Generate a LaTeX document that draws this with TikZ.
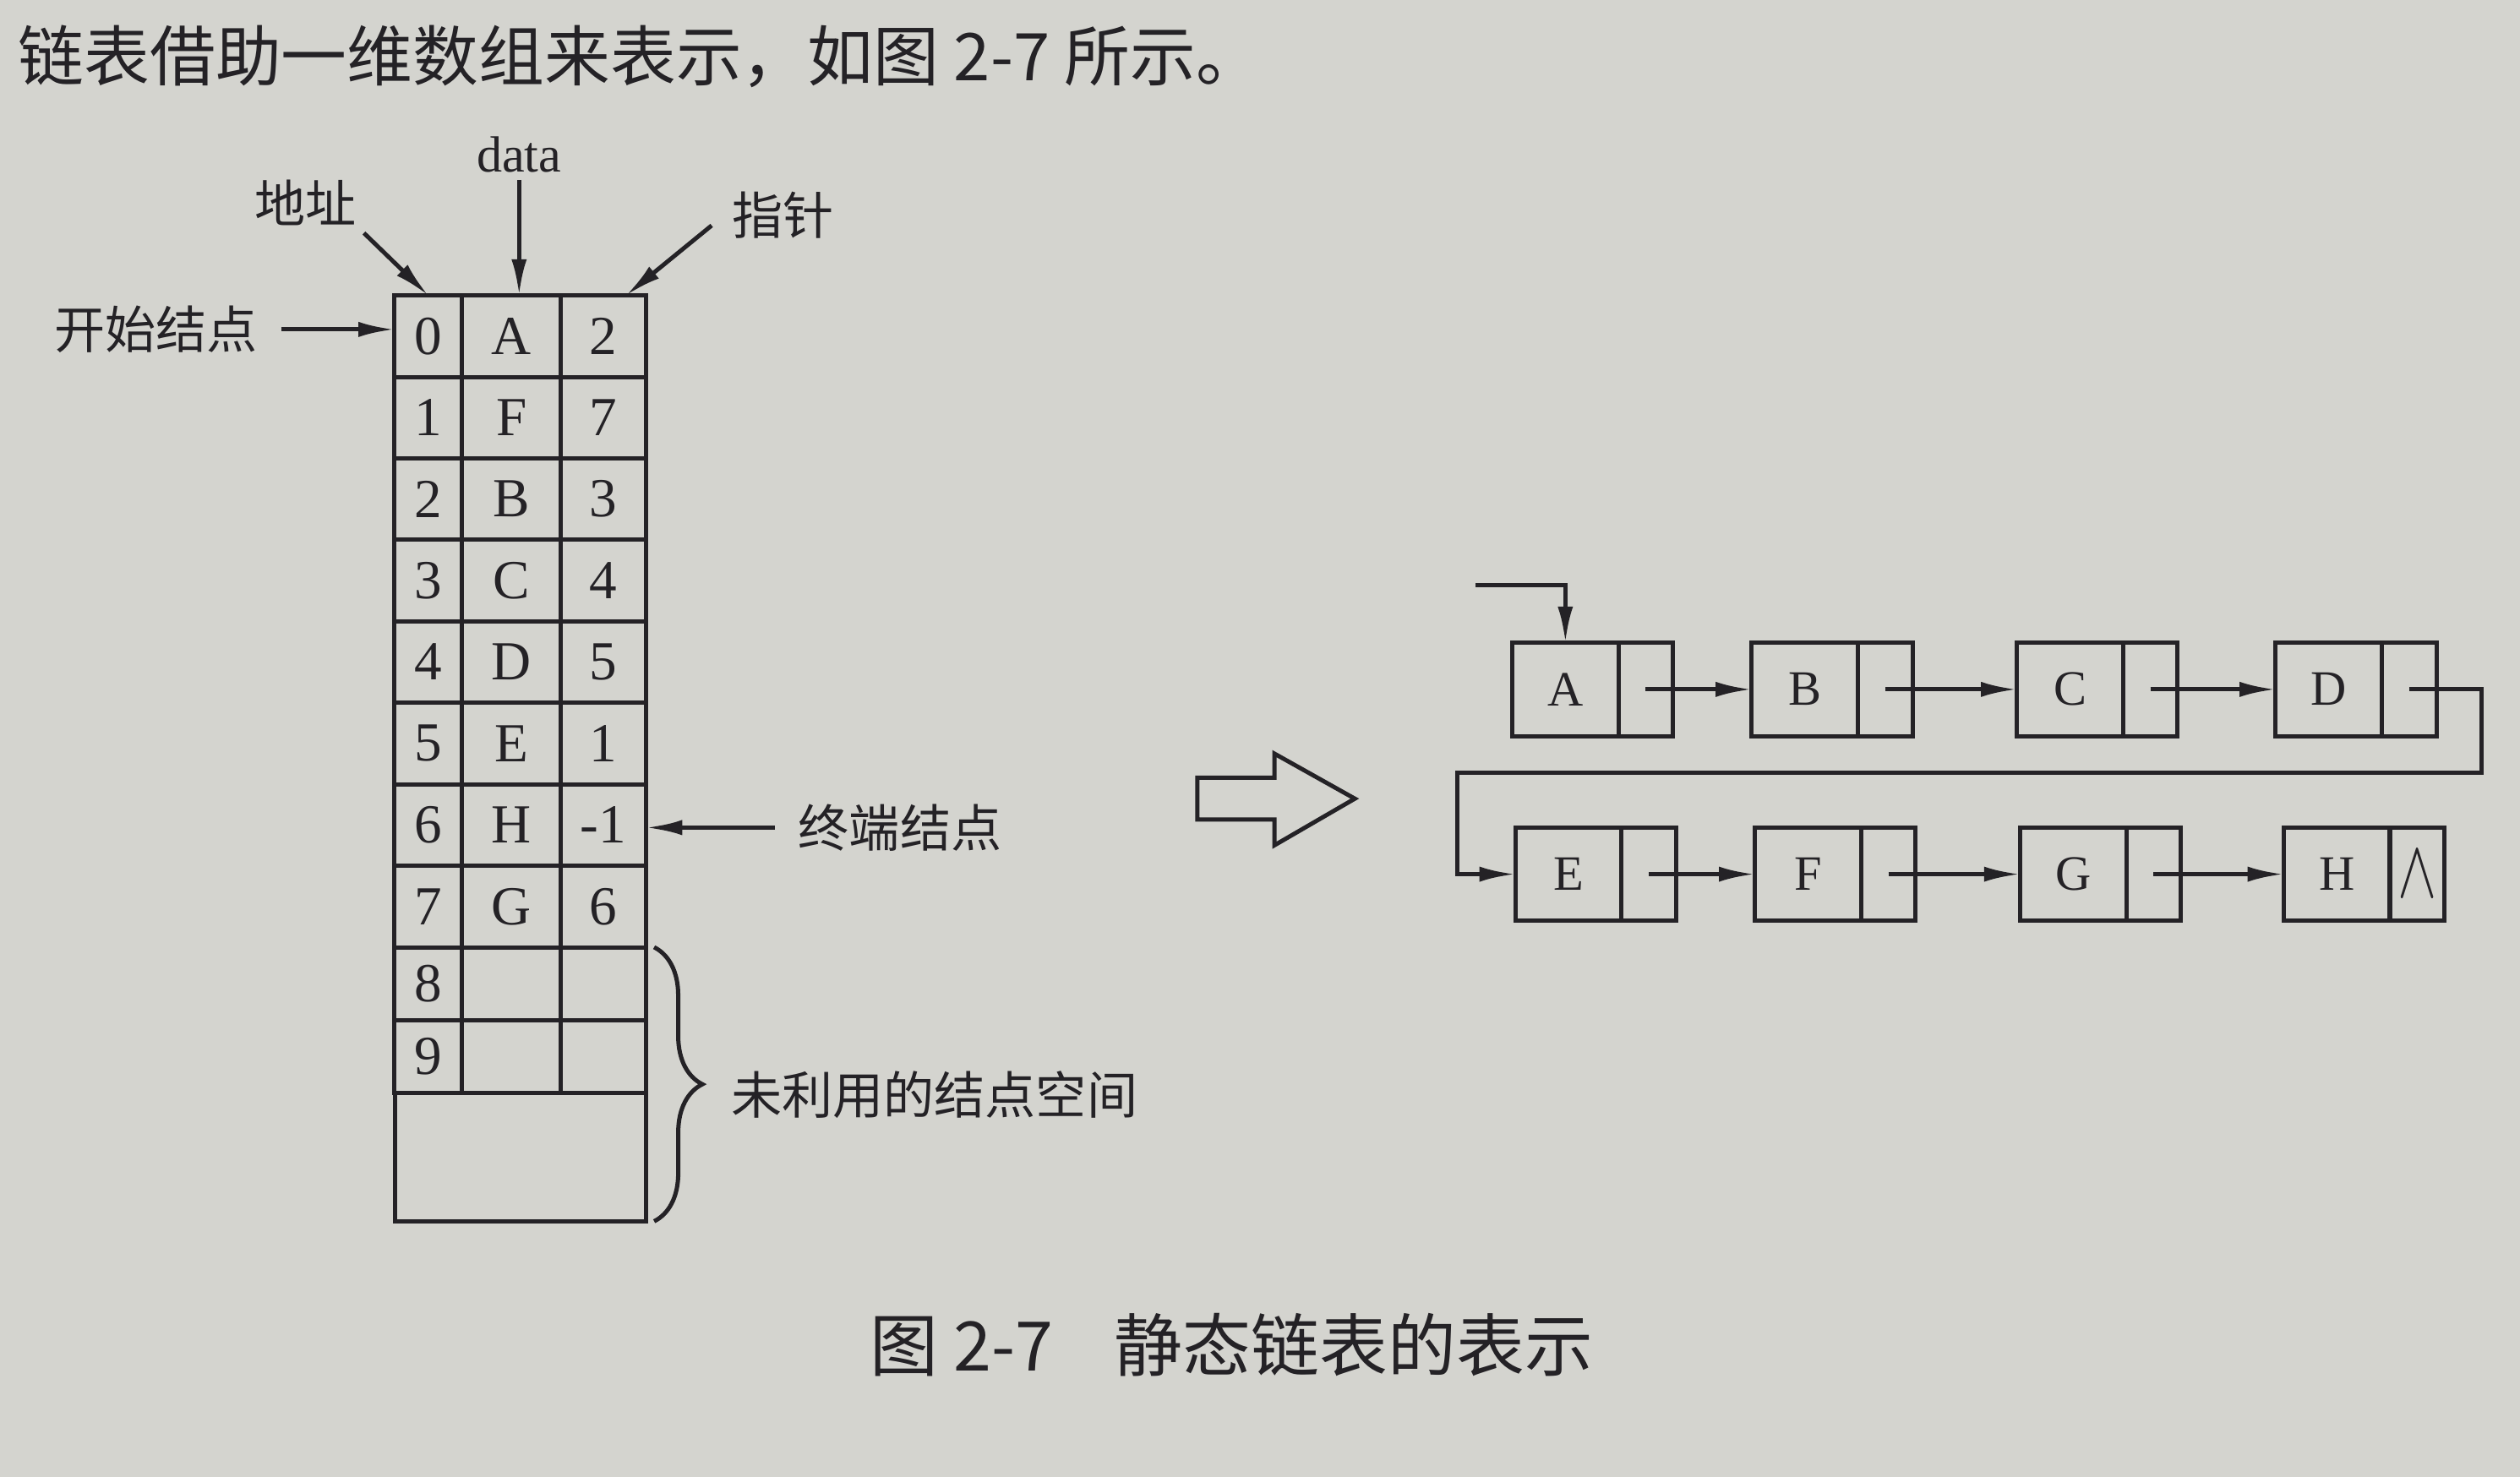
\documentclass[tikz,border=0pt]{standalone}
\usepackage{fontspec}
\setmainfont{Liberation Serif}
\newfontfamily\cjk{Noto Sans CJK SC}
\usetikzlibrary{arrows.meta}
\usetikzlibrary{decorations.pathreplacing}
\definecolor{ink}{RGB}{36,34,38}
\definecolor{paper}{RGB}{212,212,207}
\tikzstyle{sheet}=[x=0.02cm, y=-0.02cm, line width=1.5pt, color=ink, font=\fontsize{19.5}{22}\selectfont]
\tikzstyle{cell}=[draw, inner sep=0pt, outer sep=0pt, minimum height=1.014cm]
\tikzstyle{ca}=[cell, minimum width=0.84cm]
\tikzstyle{cd}=[cell, minimum width=1.23cm]
\tikzstyle{cp}=[cell, minimum width=1.06cm]
\tikzstyle{spare}=[minimum height=0.904cm]
\tikzstyle{cn}=[inner sep=2pt, font=\cjk\fontsize{18}{20}\selectfont]
\tikzstyle{txt}=[inner sep=0pt, anchor=west, font=\cjk\fontsize{23.3}{26}\selectfont]
\tikzstyle{figcap}=[inner sep=0pt, anchor=west, font=\cjk\fontsize{24.2}{27}\selectfont]
\tikzstyle{edge}=[-{Latex[length=0.45cm,width=0.19cm]}]
\tikzstyle{fld}=[draw, inner sep=0pt, outer sep=0pt, minimum width=1.32cm, minimum height=1.16cm, font=\fontsize{17.5}{20}\selectfont]
\tikzstyle{nxt}=[fld, minimum width=0.68cm]
\tikzstyle{brace}=[decorate, decoration={brace, amplitude=0.6cm}]

\begin{document}
\begin{tikzpicture}[sheet]
	\useasboundingbox (0,0) rectangle (1568,919);
	\fill[paper] (0,0) rectangle (1568,919);
	%%
	\draw (10,35) node[txt] (intro) {链表借助一维数组来表示，如图 2-7 所示。};
	%%%%%% static table
	\draw (266.5,209.2) node[ca] (a0) {0} (318.3,209.2) node[cd] (d0) {A} (375.5,209.2) node[cp] (p0) {2};
	\draw (266.5,259.9) node[ca] (a1) {1} (318.3,259.9) node[cd] (d1) {F} (375.5,259.9) node[cp] (p1) {7};
	\draw (266.5,310.6) node[ca] (a2) {2} (318.3,310.6) node[cd] (d2) {B} (375.5,310.6) node[cp] (p2) {3};
	\draw (266.5,361.3) node[ca] (a3) {3} (318.3,361.3) node[cd] (d3) {C} (375.5,361.3) node[cp] (p3) {4};
	\draw (266.5,412.0) node[ca] (a4) {4} (318.3,412.0) node[cd] (d4) {D} (375.5,412.0) node[cp] (p4) {5};
	\draw (266.5,462.7) node[ca] (a5) {5} (318.3,462.7) node[cd] (d5) {E} (375.5,462.7) node[cp] (p5) {1};
	\draw (266.5,513.4) node[ca] (a6) {6} (318.3,513.4) node[cd] (d6) {H} (375.5,513.4) node[cp] (p6) {-1};
	\draw (266.5,564.1) node[ca] (a7) {7} (318.3,564.1) node[cd] (d7) {G} (375.5,564.1) node[cp] (p7) {6};
	\draw (266.5,612.2) node[ca, spare] (a8) {8} (318.3,612.2) node[cd, spare] (d8) {} (375.5,612.2) node[cp, spare] (p8) {};
	\draw (266.5,657.4) node[ca, spare] (a9) {9} (318.3,657.4) node[cd, spare] (d9) {} (375.5,657.4) node[cp, spare] (p9) {};
	\draw (323.8,720) node[cell, minimum width=3.13cm, minimum height=1.6cm] (blank) {};
	%%
	\draw (190,126) node[cn] (addr) {地址};
	\draw (323,96) node[inner sep=2pt, font=\fontsize{18}{20}\selectfont] (dat) {data};
	\draw (487,134) node[cn] (link) {指针};
	\draw (97,205) node[cn] (start) {开始结点};
	\draw (560,515) node[cn] (tail) {终端结点};
	\draw (450,681) node[cn, anchor=west] (free) {未利用的结点空间};
	%%
	\draw[edge] (addr.south east) -- (a0.north);
	\draw[edge] (dat.south) -- (dat.south |- d0.north);
	\draw[edge, shorten <=0.2cm] (link.west) -- ([xshift=0.28cm]p0.north);
	\draw[edge, shorten <=0.2cm] (start.east) -- (start.east -| a0.west);
	\draw[edge, shorten <=0.2cm] (tail.west) -- (tail.west -| p6.east);
	\draw[brace] ([xshift=0.1cm]p7.south east) -- ([xshift=0.1cm]blank.south east);
	%%%%%% hollow arrow
	\draw[line join=miter] (745,484) -- (793,484) -- (793,469) -- (843,497) -- (793,526) -- (793,510) -- (745,510) -- cycle;
	%%%%%% linked list
	\draw (974,429) node[fld] (nA) {A};
	\draw (1024,429) node[nxt] (pA) {};
	%%
	\draw (1123,429) node[fld] (nB) {B};
	\draw (1173,429) node[nxt] (pB) {};
	%%
	\draw (1288,429) node[fld] (nC) {C};
	\draw (1338,429) node[nxt] (pC) {};
	%%
	\draw (1449,429) node[fld] (nD) {D};
	\draw (1499,429) node[nxt] (pD) {};
	%%
	\draw (976,544) node[fld] (nE) {E};
	\draw (1026,544) node[nxt] (pE) {};
	%%
	\draw (1125,544) node[fld] (nF) {F};
	\draw (1175,544) node[nxt] (pF) {};
	%%
	\draw (1290,544) node[fld] (nG) {G};
	\draw (1340,544) node[nxt] (pG) {};
	%%
	\draw (1454,544) node[fld] (nH) {H};
	\draw (1504,544) node[nxt] (pH) {\scalebox{1}[1.4]{\fontsize{20}{24}\selectfont$\wedge$}};
	%%
	\coordinate (head) at (918,364);
	\coordinate (turnR) at (1544,481);
	\coordinate (turnL) at (907,481);
	\draw[edge] (head) -| (nA.north);
	\draw[edge] (pA.center) -- (nB.west);
	\draw[edge] (pB.center) -- (nC.west);
	\draw[edge] (pC.center) -- (nD.west);
	\draw[edge] (pD.center) -| (turnR) -- (turnL) |- (nE.west);
	\draw[edge] (pE.center) -- (nF.west);
	\draw[edge] (pF.center) -- (nG.west);
	\draw[edge] (pG.center) -- (nH.west);
	%%%%%%
	\draw (540,837) node[figcap] (caption) {图 2-7\hspace{0.9em}静态链表的表示};
\end{tikzpicture}
\end{document}
